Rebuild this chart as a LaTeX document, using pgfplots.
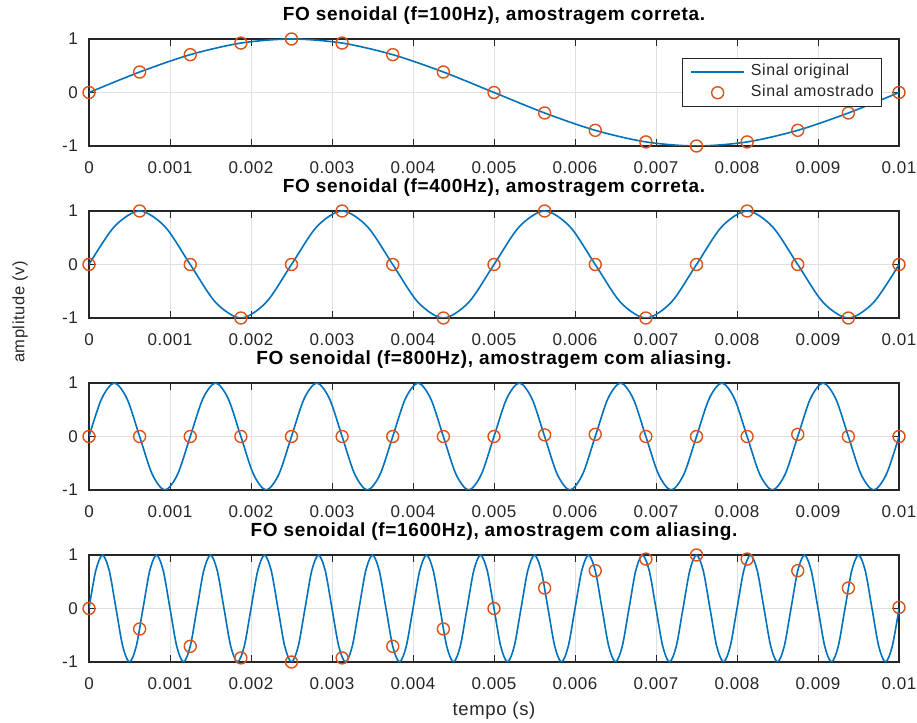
\documentclass[border=0pt]{standalone}
\usepackage{fontspec}
\setmainfont{Liberation Sans}[LetterSpace=3.5]
\usepackage{pgfplots}
\pgfplotsset{compat=1.18}
\definecolor{mblue}{RGB}{0,114,189}
\definecolor{morange}{RGB}{217,83,25}
\definecolor{axgray}{RGB}{38,38,38}
\definecolor{gridgray}{RGB}{224,224,224}
\pgfplotsset{
 panel/.style={
  scale only axis, width=810bp, height=107bp, anchor=south west,
  xmin=0, xmax=960, ymin=-1, ymax=1,
  xtick={0,96,...,960},
  xticklabels={0,0.001,0.002,0.003,0.004,0.005,0.006,0.007,0.008,0.009,0.01},
  ytick={-1,0,1}, yticklabels={-1,0,1},
  grid=major, major grid style={gridgray, line width=0.8bp},
  axis line style={axgray, line width=1.1bp},
  tick align=inside, major tick length=7bp, tick style={axgray, line width=1bp},
  xtick pos=both, ytick pos=both, xticklabel pos=lower, yticklabel pos=left,
  ticklabel style={font=\fontsize{17bp}{20bp}\selectfont, text=axgray, inner sep=0pt},
  xticklabel style={anchor=base, yshift=-27.5bp},
  yticklabel style={anchor=east, xshift=-11bp},
  title style={font=\bfseries\fontsize{19bp}{22bp}\selectfont, at={(0.5,1)}, anchor=base, yshift=12.5bp, inner sep=0pt},
 },
 curve/.style={mblue, line width=1.6bp, smooth, no marks},
 samp/.style={morange, only marks, mark=o, mark size=6bp, mark options={line width=1.4bp}},
 lineleg/.style={legend image code/.code={\draw[##1] (0bp,0bp) -- (53bp,0bp);}},
 markleg/.style={legend image code/.code={\draw[mark repeat=2,mark phase=2,##1] plot coordinates {(0bp,0bp) (26.5bp,0bp) (53bp,0bp)};}},
}
\begin{document}
\begin{tikzpicture}
% ---------- panel 1 ----------
\begin{axis}[panel, at={(89bp,577bp)},
  title={FO senoidal (f=100Hz), amostragem correta.},
  legend style={at={(0.732,0.822)}, anchor=north west, draw=axgray, line width=0.9bp, fill=white,
    font=\fontsize{16bp}{18bp}\selectfont, text=axgray, inner xsep=8bp, inner ysep=6bp,
    nodes={inner sep=0pt, text height=11.5bp, text depth=3bp}, column sep=6bp, row sep=6.5bp},
  legend cell align=left]
\addplot[curve, lineleg] table[row sep=\\] {x y\\
0 0\\ 60 0.3827\\ 120 0.7071\\ 180 0.9239\\ 240 1\\ 300 0.9239\\ 360 0.7071\\ 420 0.3827\\
480 0\\ 540 -0.3827\\ 600 -0.7071\\ 660 -0.9239\\ 720 -1\\ 780 -0.9239\\ 840 -0.7071\\ 900 -0.3827\\ 960 0\\};
\addlegendentry{Sinal original}
\addplot[samp, markleg] table[row sep=\\] {x y\\
0 0\\ 60 0.3827\\ 120 0.7071\\ 180 0.9239\\ 240 1\\ 300 0.9239\\ 360 0.7071\\ 420 0.3827\\
480 0\\ 540 -0.3827\\ 600 -0.7071\\ 660 -0.9239\\ 720 -1\\ 780 -0.9239\\ 840 -0.7071\\ 900 -0.3827\\ 960 0\\};
\addlegendentry{Sinal amostrado}
\end{axis}
% ---------- panel 2 ----------
\begin{axis}[panel, at={(89bp,405bp)},
  title={FO senoidal (f=400Hz), amostragem correta.}]
\addplot[curve] table[row sep=\\] {x y\\
0 0\\ 30 0.7071\\ 60 1\\ 90 0.7071\\ 120 0\\ 150 -0.7071\\ 180 -1\\ 210 -0.7071\\
240 0\\ 270 0.7071\\ 300 1\\ 330 0.7071\\ 360 0\\ 390 -0.7071\\ 420 -1\\ 450 -0.7071\\
480 0\\ 510 0.7071\\ 540 1\\ 570 0.7071\\ 600 0\\ 630 -0.7071\\ 660 -1\\ 690 -0.7071\\
720 0\\ 750 0.7071\\ 780 1\\ 810 0.7071\\ 840 0\\ 870 -0.7071\\ 900 -1\\ 930 -0.7071\\
960 0\\};
\addplot[samp] table[row sep=\\] {x y\\
0 0\\ 60 1\\ 120 0\\ 180 -1\\ 240 0\\ 300 1\\ 360 0\\ 420 -1\\ 480 0\\ 540 1\\ 600 0\\ 660 -1\\
720 0\\ 780 1\\ 840 0\\ 900 -1\\ 960 0\\};
\end{axis}
% ---------- panel 3 ----------
\begin{axis}[panel, at={(89bp,233bp)},
  title={FO senoidal (f=800Hz), amostragem com aliasing.}]
\addplot[curve] table[row sep=\\] {x y\\
0 0\\ 15 0.7071\\ 30 1\\ 45 0.7071\\ 60 0\\ 75 -0.7071\\ 90 -1\\ 105 -0.7071\\
120 0\\ 135 0.7071\\ 150 1\\ 165 0.7071\\ 180 0\\ 195 -0.7071\\ 210 -1\\ 225 -0.7071\\
240 0\\ 255 0.7071\\ 270 1\\ 285 0.7071\\ 300 0\\ 315 -0.7071\\ 330 -1\\ 345 -0.7071\\
360 0\\ 375 0.7071\\ 390 1\\ 405 0.7071\\ 420 0\\ 435 -0.7071\\ 450 -1\\ 465 -0.7071\\
480 0\\ 495 0.7071\\ 510 1\\ 525 0.7071\\ 540 0\\ 555 -0.7071\\ 570 -1\\ 585 -0.7071\\
600 0\\ 615 0.7071\\ 630 1\\ 645 0.7071\\ 660 0\\ 675 -0.7071\\ 690 -1\\ 705 -0.7071\\
720 0\\ 735 0.7071\\ 750 1\\ 765 0.7071\\ 780 0\\ 795 -0.7071\\ 810 -1\\ 825 -0.7071\\
840 0\\ 855 0.7071\\ 870 1\\ 885 0.7071\\ 900 0\\ 915 -0.7071\\ 930 -1\\ 945 -0.7071\\
960 0\\};
\addplot[samp] table[row sep=\\] {x y\\
0 0\\ 60 0\\ 120 0\\ 180 0\\ 240 0\\ 300 0\\ 360 0\\ 420 0\\ 480 0\\ 540 0.03\\ 600 0.04\\ 660 0\\
720 0\\ 780 0\\ 840 0.04\\ 900 0\\ 960 0\\};
\end{axis}
% ---------- panel 4 ----------
\begin{axis}[panel, at={(89bp,61bp)},
  title={FO senoidal (f=1600Hz), amostragem com aliasing.},
  xlabel={tempo (s)},
  xlabel style={at={(0.5,0)}, anchor=base, yshift=-53bp, inner sep=0pt,
    font=\fontsize{18.5bp}{21bp}\selectfont, text=axgray}]
\addplot[curve] table[row sep=\\] {x y\\
0 0\\ 8 0.7071\\ 16 1\\ 24 0.7071\\ 32 0\\ 40 -0.7071\\ 48 -1\\ 56 -0.7071\\
64 0\\ 72 0.7071\\ 80 1\\ 88 0.7071\\ 96 0\\ 104 -0.7071\\ 112 -1\\ 120 -0.7071\\
128 0\\ 136 0.7071\\ 144 1\\ 152 0.7071\\ 160 0\\ 168 -0.7071\\ 176 -1\\ 184 -0.7071\\
192 0\\ 200 0.7071\\ 208 1\\ 216 0.7071\\ 224 0\\ 232 -0.7071\\ 240 -1\\ 248 -0.7071\\
256 0\\ 264 0.7071\\ 272 1\\ 280 0.7071\\ 288 0\\ 296 -0.7071\\ 304 -1\\ 312 -0.7071\\
320 0\\ 328 0.7071\\ 336 1\\ 344 0.7071\\ 352 0\\ 360 -0.7071\\ 368 -1\\ 376 -0.7071\\
384 0\\ 392 0.7071\\ 400 1\\ 408 0.7071\\ 416 0\\ 424 -0.7071\\ 432 -1\\ 440 -0.7071\\
448 0\\ 456 0.7071\\ 464 1\\ 472 0.7071\\ 480 0\\ 488 -0.7071\\ 496 -1\\ 504 -0.7071\\
512 0\\ 520 0.7071\\ 528 1\\ 536 0.7071\\ 544 0\\ 552 -0.7071\\ 560 -1\\ 568 -0.7071\\
576 0\\ 584 0.7071\\ 592 1\\ 600 0.7071\\ 608 0\\ 616 -0.7071\\ 624 -1\\ 632 -0.7071\\
640 0\\ 648 0.7071\\ 656 1\\ 664 0.7071\\ 672 0\\ 680 -0.7071\\ 688 -1\\ 696 -0.7071\\
704 0\\ 712 0.7071\\ 720 1\\ 728 0.7071\\ 736 0\\ 744 -0.7071\\ 752 -1\\ 760 -0.7071\\
768 0\\ 776 0.7071\\ 784 1\\ 792 0.7071\\ 800 0\\ 808 -0.7071\\ 816 -1\\ 824 -0.7071\\
832 0\\ 840 0.7071\\ 848 1\\ 856 0.7071\\ 864 0\\ 872 -0.7071\\ 880 -1\\ 888 -0.7071\\
896 0\\ 904 0.7071\\ 912 1\\ 920 0.7071\\ 928 0\\ 936 -0.7071\\ 944 -1\\ 952 -0.7071\\
960 0\\};
\addplot[samp] table[row sep=\\] {x y\\
0 0\\ 60 -0.3827\\ 120 -0.7071\\ 180 -0.9239\\ 240 -1\\ 300 -0.9239\\ 360 -0.7071\\ 420 -0.3827\\
480 0\\ 540 0.3827\\ 600 0.7071\\ 660 0.9239\\ 720 1\\ 780 0.9239\\ 840 0.7071\\ 900 0.3827\\ 960 0.02\\};
\end{axis}
\node[rotate=90, inner sep=0pt, font=\fontsize{16.5bp}{19bp}\selectfont, text=axgray] at (20bp,411bp) {amplitude (v)};
\pgfresetboundingbox
\path[use as bounding box] (0bp,0bp) rectangle (917bp,723bp);
\end{tikzpicture}
\end{document}
